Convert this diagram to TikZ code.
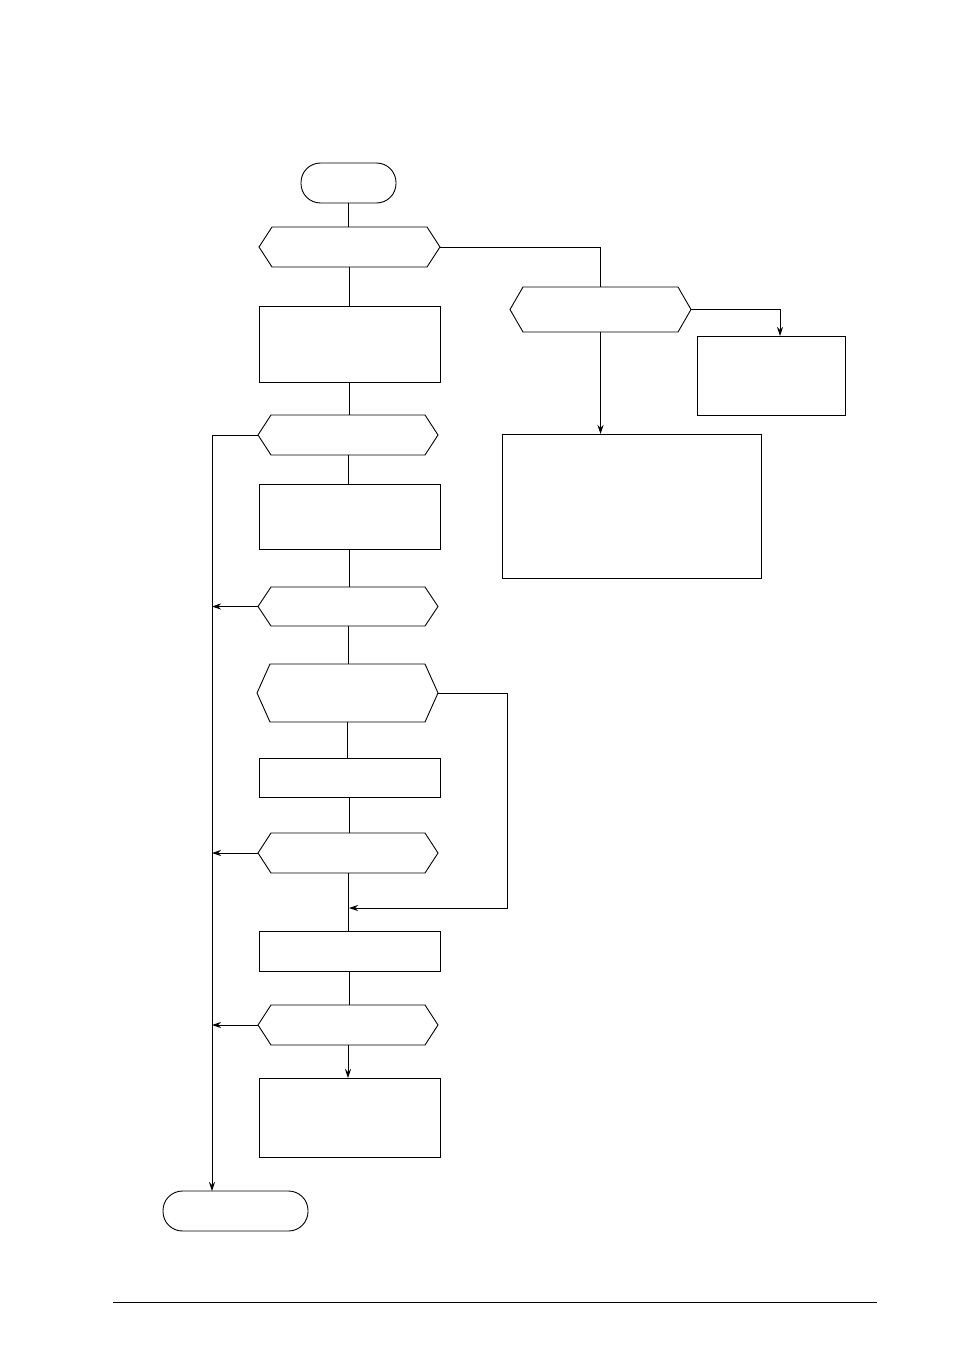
\documentclass[tikz,border=0pt]{standalone}
\usetikzlibrary{arrows.meta,calc}
\begin{document}
\begin{tikzpicture}[x=1pt,y=-1pt,line width=0.9pt,
  boxnode/.style={draw,rectangle,inner sep=0,outer sep=0},
  hexnode/.style={rectangle,inner sep=0,outer sep=0},
  termnode/.style={draw,rectangle,rounded corners=19.5pt,inner sep=0,outer sep=0,minimum height=40pt},
  conn/.style={draw},
  arr/.style={draw,-{Stealth[length=9pt,width=6pt,inset=3pt]}}]
\useasboundingbox (0,0) rectangle (954,1351);
% terminals
\node[termnode,minimum width=95pt] (st) at (348.5,183) {};
\node[termnode,minimum width=145pt] (en) at (235.5,1211) {};
% hexagons (outline drawn below)
\node[hexnode,minimum width=181pt,minimum height=40pt] (h1) at (349.5,247) {};
\node[hexnode,minimum width=181pt,minimum height=45pt] (h2) at (600.5,309.5) {};
\node[hexnode,minimum width=180pt,minimum height=40pt] (h3) at (348,435) {};
\node[hexnode,minimum width=180pt,minimum height=39pt] (h4) at (348,606.5) {};
\node[hexnode,minimum width=181pt,minimum height=58pt] (h5) at (347.5,693) {};
\node[hexnode,minimum width=180pt,minimum height=40pt] (h6) at (348,853) {};
\node[hexnode,minimum width=180pt,minimum height=40pt] (h7) at (348,1025) {};
\foreach \h in {h1,h2,h3,h4,h5,h6,h7}{
  \draw (\h.west) -- ([xshift=13pt]\h.north west) -- ([xshift=-13pt]\h.north east)
    -- (\h.east) -- ([xshift=-13pt]\h.south east) -- ([xshift=13pt]\h.south west) -- cycle;
}
% boxes
\node[boxnode,minimum width=181pt,minimum height=76pt] (b1) at (349.5,344) {};
\node[boxnode,minimum width=181pt,minimum height=65pt] (b2) at (349.5,516.5) {};
\node[boxnode,minimum width=181pt,minimum height=39pt] (b3) at (349.5,777.5) {};
\node[boxnode,minimum width=181pt,minimum height=40pt] (b4) at (349.5,951) {};
\node[boxnode,minimum width=181pt,minimum height=79pt] (b5) at (349.5,1117.5) {};
\node[boxnode,minimum width=148pt,minimum height=79pt] (r1) at (771,375.5) {};
\node[boxnode,minimum width=259pt,minimum height=144pt] (big) at (631.5,506) {};
% helper coordinates
\coordinate (lx) at (212,0);
\coordinate (rx) at (507,0);
\coordinate (r1x) at (780,0);
\coordinate (jn) at (349,908);
% connectors
\draw[conn] (st.south) -- (st.south |- h1.north);
\draw[conn] (h1.east) -| (h2.north);
\draw[arr] (h2.east) -- (h2.east -| r1x) -- (r1x |- r1.north);
\draw[arr] (h2.south) -- (h2.south |- big.north);
\draw[conn] (h1.south) -- (h1.south |- b1.north);
\draw[conn] (b1.south) -- (b1.south |- h3.north);
\draw[conn] (h3.south) -- (h3.south |- b2.north);
\draw[conn] (b2.south) -- (b2.south |- h4.north);
\draw[conn] (h4.south) -- (h4.south |- h5.north);
\draw[conn] (h5.south) -- (h5.south |- b3.north);
\draw[conn] (b3.south) -- (b3.south |- h6.north);
\draw[conn] (h6.south) -- (h6.south |- b4.north);
\draw[conn] (b4.south) -- (b4.south |- h7.north);
\draw[arr] (h7.south) -- (h7.south |- b5.north);
\draw[arr] (h3.west) -- (h3.west -| lx) -- (lx |- en.north);
\draw[arr] (h4.west) -- (h4.west -| lx);
\draw[arr] (h6.west) -- (h6.west -| lx);
\draw[arr] (h7.west) -- (h7.west -| lx);
\draw[arr] (h5.east) -- (h5.east -| rx) -- (rx |- jn) -- (jn);
% footer rule
\coordinate (fl) at (113,1302);
\coordinate (fr) at (877,1302);
\draw (fl) -- (fr);
\end{tikzpicture}
\end{document}
